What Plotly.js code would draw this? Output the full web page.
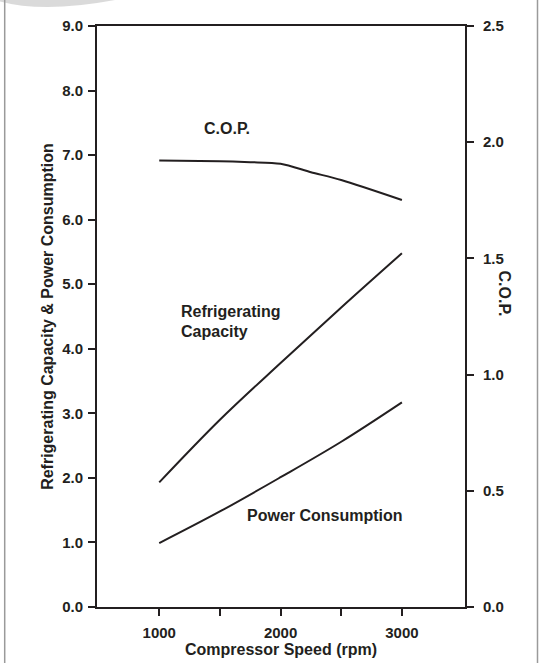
<!DOCTYPE html>
<html>
<head>
<meta charset="utf-8">
<script src="https://cdn.plot.ly/plotly-3.0.1.min.js"></script>
<style>html,body{margin:0;padding:0;background:#fff;}#chart{width:542px;height:663px;}</style>
</head>
<body>
<div id="chart"></div>
<script>
// Data
var speedRpm = [1000, 1500, 2000, 2500, 3000];
var refrigeratingCapacity = [1.93, 2.90, 3.78, 4.64, 5.48];
var powerConsumption = [0.99, 1.48, 2.01, 2.56, 3.17];
var copSpeed = [1000, 1500, 1750, 2000, 2250, 2500, 3000];
var copValues = [1.921, 1.918, 1.914, 1.907, 1.871, 1.837, 1.751];

var leftTicks = [0, 1, 2, 3, 4, 5, 6, 7, 8, 9];
var rightTicks = [0, 0.5, 1.0, 1.5, 2.0, 2.5];
var xTickVals = [1000, 1500, 2000, 2500, 3000];
var xTickText = ['1000', '', '2000', '', '3000'];

var ink = '#231f20';
var fam = '"Liberation Sans", Arial, Helvetica, sans-serif';
var tickFont = {family: fam, size: 15, color: ink, weight: 'bold'};
var labelFont = {family: fam, size: 16, color: ink, weight: 'bold'};

// plot-area pixel helpers for paper-positioned decorations
var L = 97, T = 26, W = 368, H = 581;
function px(xp) { return (xp - L) / W; }
function py(yp) { return (T + H - yp) / H; }

var traces = [
  {x: speedRpm, y: refrigeratingCapacity, type: 'scatter', mode: 'lines', name: 'Refrigerating Capacity',
   line: {color: ink, width: 2, shape: 'spline', smoothing: 1}, yaxis: 'y'},
  {x: speedRpm, y: powerConsumption, type: 'scatter', mode: 'lines', name: 'Power Consumption',
   line: {color: ink, width: 2, shape: 'spline', smoothing: 1}, yaxis: 'y'},
  {x: copSpeed, y: copValues, type: 'scatter', mode: 'lines', name: 'C.O.P.',
   line: {color: ink, width: 2, shape: 'spline', smoothing: 0.8}, yaxis: 'y2'}
];

var layout = {
  width: 542, height: 663,
  margin: {l: L, r: 542 - L - W, t: T, b: 663 - T - H},
  paper_bgcolor: '#ffffff', plot_bgcolor: '#ffffff',
  showlegend: false,
  font: {family: fam, color: ink},
  xaxis: {
    range: [487, 3520], tickvals: xTickVals, ticktext: xTickText,
    ticks: 'outside', ticklen: 7, tickwidth: 2, tickcolor: ink,
    showline: true, linecolor: ink, linewidth: 2, mirror: true,
    showgrid: false, zeroline: false, tickfont: tickFont, ticklabelstandoff: 4,
    title: {text: 'Compressor Speed (rpm)', font: labelFont, standoff: 1}
  },
  yaxis: {
    range: [0, 9], tickvals: leftTicks, tickformat: '.1f',
    ticks: 'outside', ticklen: 7, tickwidth: 2, tickcolor: ink,
    showline: true, linecolor: ink, linewidth: 2,
    showgrid: false, zeroline: false, tickfont: tickFont, ticklabelstandoff: 2,
    title: {text: 'Refrigerating Capacity & Power Consumption', font: labelFont, standoff: 5}
  },
  yaxis2: {
    range: [0, 2.5], tickvals: rightTicks, tickformat: '.1f',
    overlaying: 'y', side: 'right',
    ticks: 'outside', ticklen: 7, tickwidth: 2, tickcolor: ink,
    showline: true, linecolor: ink, linewidth: 2,
    showgrid: false, zeroline: false, tickfont: tickFont, ticklabelstandoff: 6
  },
  annotations: [
    {text: 'C.O.P.', xref: 'paper', yref: 'paper', x: px(515), y: py(293),
     textangle: 90, showarrow: false, font: labelFont},
    {text: 'C.O.P.', xref: 'x', yref: 'y', x: 1560, y: 7.42, showarrow: false, font: labelFont},
    {text: 'Refrigerating', xref: 'x', yref: 'y', x: 1165, y: 4.57, xanchor: 'left',
     showarrow: false, font: labelFont},
    {text: 'Capacity', xref: 'x', yref: 'y', x: 1165, y: 4.275, xanchor: 'left',
     showarrow: false, font: labelFont},
    {text: 'Power Consumption', xref: 'x', yref: 'y', x: 1708, y: 1.425, xanchor: 'left',
     showarrow: false, font: labelFont}
  ],
  shapes: [
    {type: 'path', xref: 'paper', yref: 'paper', layer: 'below',
     path: 'M ' + px(-5) + ' ' + py(0) + ' Q ' + px(40) + ' ' + py(14) + ' ' + px(115) + ' ' + py(0) + ' Z',
     fillcolor: 'rgba(150,150,150,0.35)', line: {width: 0}},
    {type: 'line', xref: 'paper', yref: 'paper', x0: px(4.7), x1: px(4.7), y0: py(0), y1: py(663),
     line: {color: '#9a9a9a', width: 1.5}},
    {type: 'line', xref: 'paper', yref: 'paper', x0: px(537.5), x1: px(537.5), y0: py(0), y1: py(663),
     line: {color: '#9a9a9a', width: 1.5}}
  ]
};

Plotly.newPlot('chart', traces, layout, {displayModeBar: false, staticPlot: true});
</script>
</body>
</html>
